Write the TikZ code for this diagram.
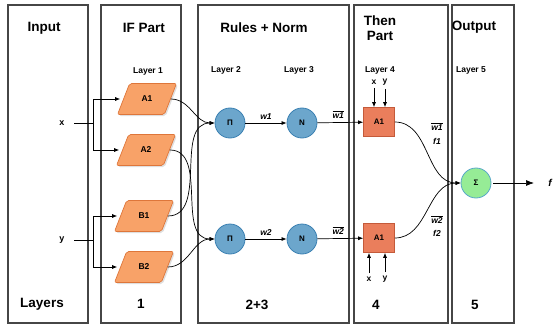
\documentclass[tikz,border=0pt]{standalone}
\usepackage{fontspec}
\setmainfont{Liberation Sans}
\usetikzlibrary{shapes.geometric,arrows.meta,shadows}

\definecolor{parafill}{RGB}{248,162,104}
\definecolor{paradraw}{RGB}{222,118,58}
\definecolor{nodefill}{RGB}{108,166,204}
\definecolor{nodedraw}{RGB}{58,128,178}
\definecolor{rulefill}{RGB}{234,126,92}
\definecolor{ruledraw}{RGB}{196,90,58}
\definecolor{sumfill}{RGB}{150,236,150}
\definecolor{sumdraw}{RGB}{88,168,200}

\tikzset{
  panel/.style={draw=gray!55!black, line width=1.4pt},
  heading/.style={font=\fontsize{13.5}{15}\selectfont\bfseries},
  lay/.style={font=\fontsize{8.5}{10}\selectfont\bfseries},
  lbl/.style={font=\fontsize{9}{10}\selectfont\bfseries},
  wlab/.style={font=\fontsize{8.5}{9}\selectfont\bfseries\itshape},
  fuzz/.style={trapezium, trapezium left angle=64, trapezium right angle=116,
    trapezium stretches=true, minimum width=59pt, minimum height=31pt,
    rounded corners=2pt, draw=paradraw, fill=parafill,
    drop shadow={opacity=0.25, shadow xshift=1.5pt, shadow yshift=-1.5pt},
    font=\fontsize{8.5}{9}\selectfont\bfseries},
  neuron/.style={circle, draw=nodedraw, fill=nodefill, line width=0.8pt,
    minimum size=30pt, inner sep=0pt, font=\fontsize{8}{9}\selectfont\bfseries},
  rulebox/.style={rectangle, draw=ruledraw, fill=rulefill, line width=0.6pt,
    minimum width=31pt, minimum height=29pt, inner sep=0pt,
    font=\fontsize{8}{9}\selectfont\bfseries},
  sumnode/.style={circle, draw=sumdraw, fill=sumfill, line width=0.8pt,
    minimum size=30pt, inner sep=0pt, font=\fontsize{8}{9}\selectfont\bfseries}
}

\begin{document}
\begin{tikzpicture}[x=1pt,y=-1pt,>={Latex[length=5pt,width=4pt]},line width=0.7pt]
  \useasboundingbox (0,0) rectangle (558,324);
  % panels
  \draw[panel] (8,5) rectangle (88,323);
  \draw[panel] (101,5) rectangle (181,323);
  \draw[panel] (198,5) rectangle (349,323);
  \draw[panel] (354,5) rectangle (448,323);
  \draw[panel] (452,5) rectangle (514,323);

  % headings
  \node at (44,28) [heading] (hin) {Input};
  \node at (144,28) [heading] (hif) {IF Part};
  \node at (264,28) [heading] (hru) {Rules + Norm};
  \node at (380,28) [heading, align=center] (hth) {Then\\Part};
  \node at (474,27) [heading] (hout) {Output};

  \node at (148,71) [lay] (l1) {Layer 1};
  \node at (226,70) [lay] (l2) {Layer 2};
  \node at (299,70) [lay] (l3) {Layer 3};
  \node at (380,70) [lay] (l4) {Layer 4};
  \node at (471,70) [lay] (l5) {Layer 5};

  \node at (42,304) [heading] (bl) {Layers};
  \node at (141,304) [heading] (b1) {1};
  \node at (257,305) [heading] (b23) {2+3};
  \node at (376,305) [heading] (b4) {4};
  \node at (475,305) [heading] (b5) {5};

  % inputs
  \node at (62,123) [lbl] (x) {x};
  \node at (62,240) [lbl] (y) {y};
  \coordinate (xb) at (93,123);
  \coordinate (yb) at (93,240);

  % layer 1
  \node at (147,99) [fuzz] (A1) {A1};
  \node at (146,150) [fuzz] (A2) {A2};
  \node at (144,216) [fuzz] (B1) {B1};
  \node at (144,267) [fuzz] (B2) {B2};

  \draw[shorten <=6pt] (x) -- (xb);
  \draw[->, shorten >=3pt] (xb) |- (A1);
  \draw[->, shorten >=3pt] (xb) |- (A2);
  \draw[shorten <=6pt] (y) -- (yb);
  \draw[->, shorten >=3pt] (yb) |- (B1);
  \draw[->, shorten >=3pt] (yb) |- (B2);

  % layers 2 and 3
  \node at (230,123) [neuron] (P1) {Π};
  \node at (302,123) [neuron] (N1) {N};
  \node at (230,239) [neuron] (P2) {Π};
  \node at (302,239) [neuron] (N2) {N};

  \draw[->] (A1) edge[out=0,in=180] (P1);
  \draw[->] (B1) edge[out=0,in=180] (P1);
  \draw[->] (A2) edge[out=0,in=180] (P2);
  \draw[->] (B2) edge[out=0,in=180] (P2);

  \draw[->] (P1) -- node[wlab, above] (w1) {w1} (N1);
  \draw[->] (P2) -- node[wlab, above] (w2) {w2} (N2);

  % layer 4
  \node at (379,122) [rulebox] (R1) {A1};
  \node at (379,238) [rulebox] (R2) {A1};

  \draw[->] (N1) -- node[wlab, above, xshift=-2pt] (nw1) {$\overline{\mbox{w1}}$} (R1);
  \draw[->] (N2) -- node[wlab, above, xshift=-2pt] (nw2) {$\overline{\mbox{w2}}$} (R2);

  \node at (374,82) [lay] (x4) {x};
  \node at (385,82) [lay] (y4) {y};
  \draw[->] (x4) -- (x4 |- R1.north);
  \draw[->] (y4) -- (y4 |- R1.north);
  \node at (369,279) [lay] (x5) {x};
  \node at (385,279) [lay] (y5) {y};
  \draw[->] (x5) -- (x5 |- R2.south);
  \draw[->] (y5) -- (y5 |- R2.south);

  % layer 5
  \node at (476,183) [sumnode] (S) {Σ};
  \draw[->] (R1) edge[out=0,in=180] (S);
  \draw[->] (R2) edge[out=0,in=180] (S);

  \node at (437,127) [wlab] (f1a) {$\overline{\mbox{w1}}$};
  \node at (437,141) [wlab] (f1b) {f1};
  \node at (437,220) [wlab] (f2a) {$\overline{\mbox{w2}}$};
  \node at (437,233) [wlab] (f2b) {f2};

  \coordinate (fo) at (534,183);
  \draw[-{Latex[length=8pt,width=6pt]}, shorten <=2pt] (S) -- (fo);
  \node at (548,183) [wlab, anchor=west, inner sep=0pt, font=\fontsize{10}{12}\selectfont\bfseries\itshape] (f) {f};
\end{tikzpicture}
\end{document}
